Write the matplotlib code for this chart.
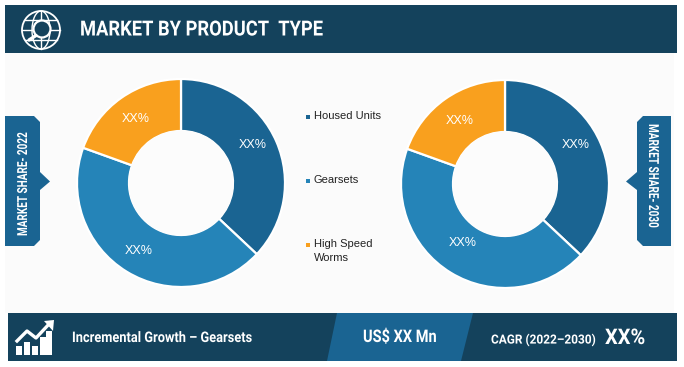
import numpy as np
import matplotlib
matplotlib.use("Agg")
import matplotlib.pyplot as plt
from matplotlib.patches import Polygon, Circle, Ellipse
from matplotlib.patheffects import AbstractPathEffect
from matplotlib.transforms import Affine2D

categories = ["Housed Units", "Gearsets", "High Speed\nWorms"]
share_2022 = [37, 43.5, 19.5]
share_2030 = [37, 43.5, 19.5]
slice_labels = ["XX%", "XX%", "XX%"]
title = "MARKET BY PRODUCT  TYPE"

DARK = "#14425C"
MID = "#1A6492"
BLUE = "#2584B8"
ORANGE = "#F9A01E"
colors = [MID, BLUE, ORANGE]
HEAD = ["Roboto", "DejaVu Sans"]
BODY = ["Liberation Sans", "DejaVu Sans"]
W, H = 684, 367


class Condense(AbstractPathEffect):
    """Squeeze glyphs horizontally, in the text's own frame."""
    def __init__(self, sx):
        super().__init__()
        self.sx = sx

    def draw_path(self, renderer, gc, tpath, affine, rgbFace=None):
        renderer.draw_path(gc, tpath, Affine2D().scale(self.sx, 1) + affine, rgbFace)


fig = plt.figure(figsize=(W / 100, H / 100), dpi=100, facecolor="white")
ax = fig.add_axes([0, 0, 1, 1])
ax.set_xlim(0, W)
ax.set_ylim(0, H)
ax.axis("off")
Y = lambda y: H - y


def poly(pts, c, z=2):
    ax.add_patch(Polygon([(x, Y(y)) for x, y in pts], closed=True, fc=c, ec="none", zorder=z))


def rect(x0, y0, x1, y1, c, z=2):
    poly([(x0, y0), (x1, y0), (x1, y1), (x0, y1)], c, z)


def narrow(x, y, s, size, sx, rot=0):
    ax.text(x, Y(y), s, color="white", fontsize=size, fontweight="bold", family=HEAD,
            va="center", ha="left", rotation=rot, rotation_mode="anchor", zorder=6,
            path_effects=[Condense(sx)])


# panel, header, footer
rect(5, 53, 674, 313, "#FBFBFB", 1)
rect(5, 5, 677, 53, DARK)
rect(8, 313, 677, 361, DARK)
poly([(337, 313), (473, 313), (461, 361), (327, 361)], MID, 3)

# header icon (globe + magnifier)
cx, cy = 41, 30
ax.add_patch(Circle((cx, Y(cy)), 19, fc="none", ec="white", lw=1.3, zorder=4))
ax.add_patch(Ellipse((cx, Y(cy)), 18, 38, fc="none", ec="white", lw=1.0, zorder=4))
for yy in (20, 40):
    half = np.sqrt(19 ** 2 - (yy - cy) ** 2)
    ax.plot([cx - half, cx + half], [Y(yy), Y(yy)], color="white", lw=1.0, zorder=4)
ax.plot([cx, cx], [Y(11), Y(49)], color="white", lw=1.0, zorder=4)
ax.plot([cx - 19, cx + 19], [Y(cy), Y(cy)], color="white", lw=1.0, zorder=4)
ax.add_patch(Circle((cx + 1, Y(29)), 8.5, fc=DARK, ec="white", lw=1.6, zorder=5))
ax.plot([cx - 5, cx - 12], [Y(35.5), Y(40)], color="white", lw=2.4, zorder=5, solid_capstyle="round")

narrow(80, 30, title, 15, 0.88)


# side tabs
def tab(x_out, x_in, tip):
    sgn = 1 if x_in > x_out else -1
    poly([(x_out, 116), (x_in - 6 * sgn, 116), (x_in, 122), (x_in, 172), (tip, 181.5),
          (x_in, 190), (x_in, 240), (x_in - 6 * sgn, 246), (x_out, 246)], MID, 3)


tab(5, 40, 50)
tab(671, 637, 626)
narrow(23, 236, "MARKET SHARE- 2022", 10, 0.72, 90)
narrow(653, 124, "MARKET SHARE- 2030", 10, 0.72, 270)

# donuts
for values, center in ((share_2022, (181, Y(183))), (share_2030, (505, Y(184)))):
    ax.pie(values, colors=colors, startangle=90, counterclock=False, center=center, radius=104,
           frame=True, wedgeprops=dict(width=52, edgecolor="white", linewidth=1.6))
    ax.add_patch(Circle(center, 52.5, fc="#FCFCFC", ec="none", zorder=4))
ax.set_xlim(0, W)
ax.set_ylim(0, H)
ax.set_aspect("auto")
ax.axis("off")

positions = [[(253, 144.5), (139, 250.5), (136, 119.5)], [(576, 145.5), (463, 243.5), (460, 120.5)]]
for row in positions:
    for (x, y), lab in zip(row, slice_labels):
        ax.text(x, Y(y), lab, color="white", fontsize=9, ha="center", va="center",
                family=BODY, zorder=6)

# legend
legend_y = [116, 180, 244]
for cat, c, yy in zip(categories, colors, legend_y):
    rect(306, yy - 1.5, 310, yy + 2.5, c, 5)
    lines = cat.split("\n")
    ax.text(314, Y(yy), lines[0], fontsize=8, color="#222222", va="center", ha="left",
            family=BODY, zorder=6)
    if len(lines) > 1:
        ax.text(314, Y(yy + 14), lines[1], fontsize=8, color="#222222", va="center", ha="left",
                family=BODY, zorder=6)

# footer icon
for x0, top in zip((15.5, 23.5, 31.5, 39.5, 46), (346, 342, 346, 337, 331)):
    rect(x0, top, x0 + 6, 355, "white", 5)
ax.plot([17, 27, 36, 50], [Y(341), Y(331), Y(338), Y(323)], color="white", lw=2.4, zorder=5)
poly([(44, 321), (54, 320), (53, 331)], "white", 5)

narrow(72, 338, "Incremental Growth – Gearsets", 10.5, 0.88)
narrow(363, 337, "US$ XX Mn", 12.5, 0.84)
narrow(491, 340, "CAGR (2022–2030)", 9.1, 0.94)
narrow(605, 338, "XX%", 15.5, 0.93)

fig.savefig("out.png", dpi=100, facecolor="white")
